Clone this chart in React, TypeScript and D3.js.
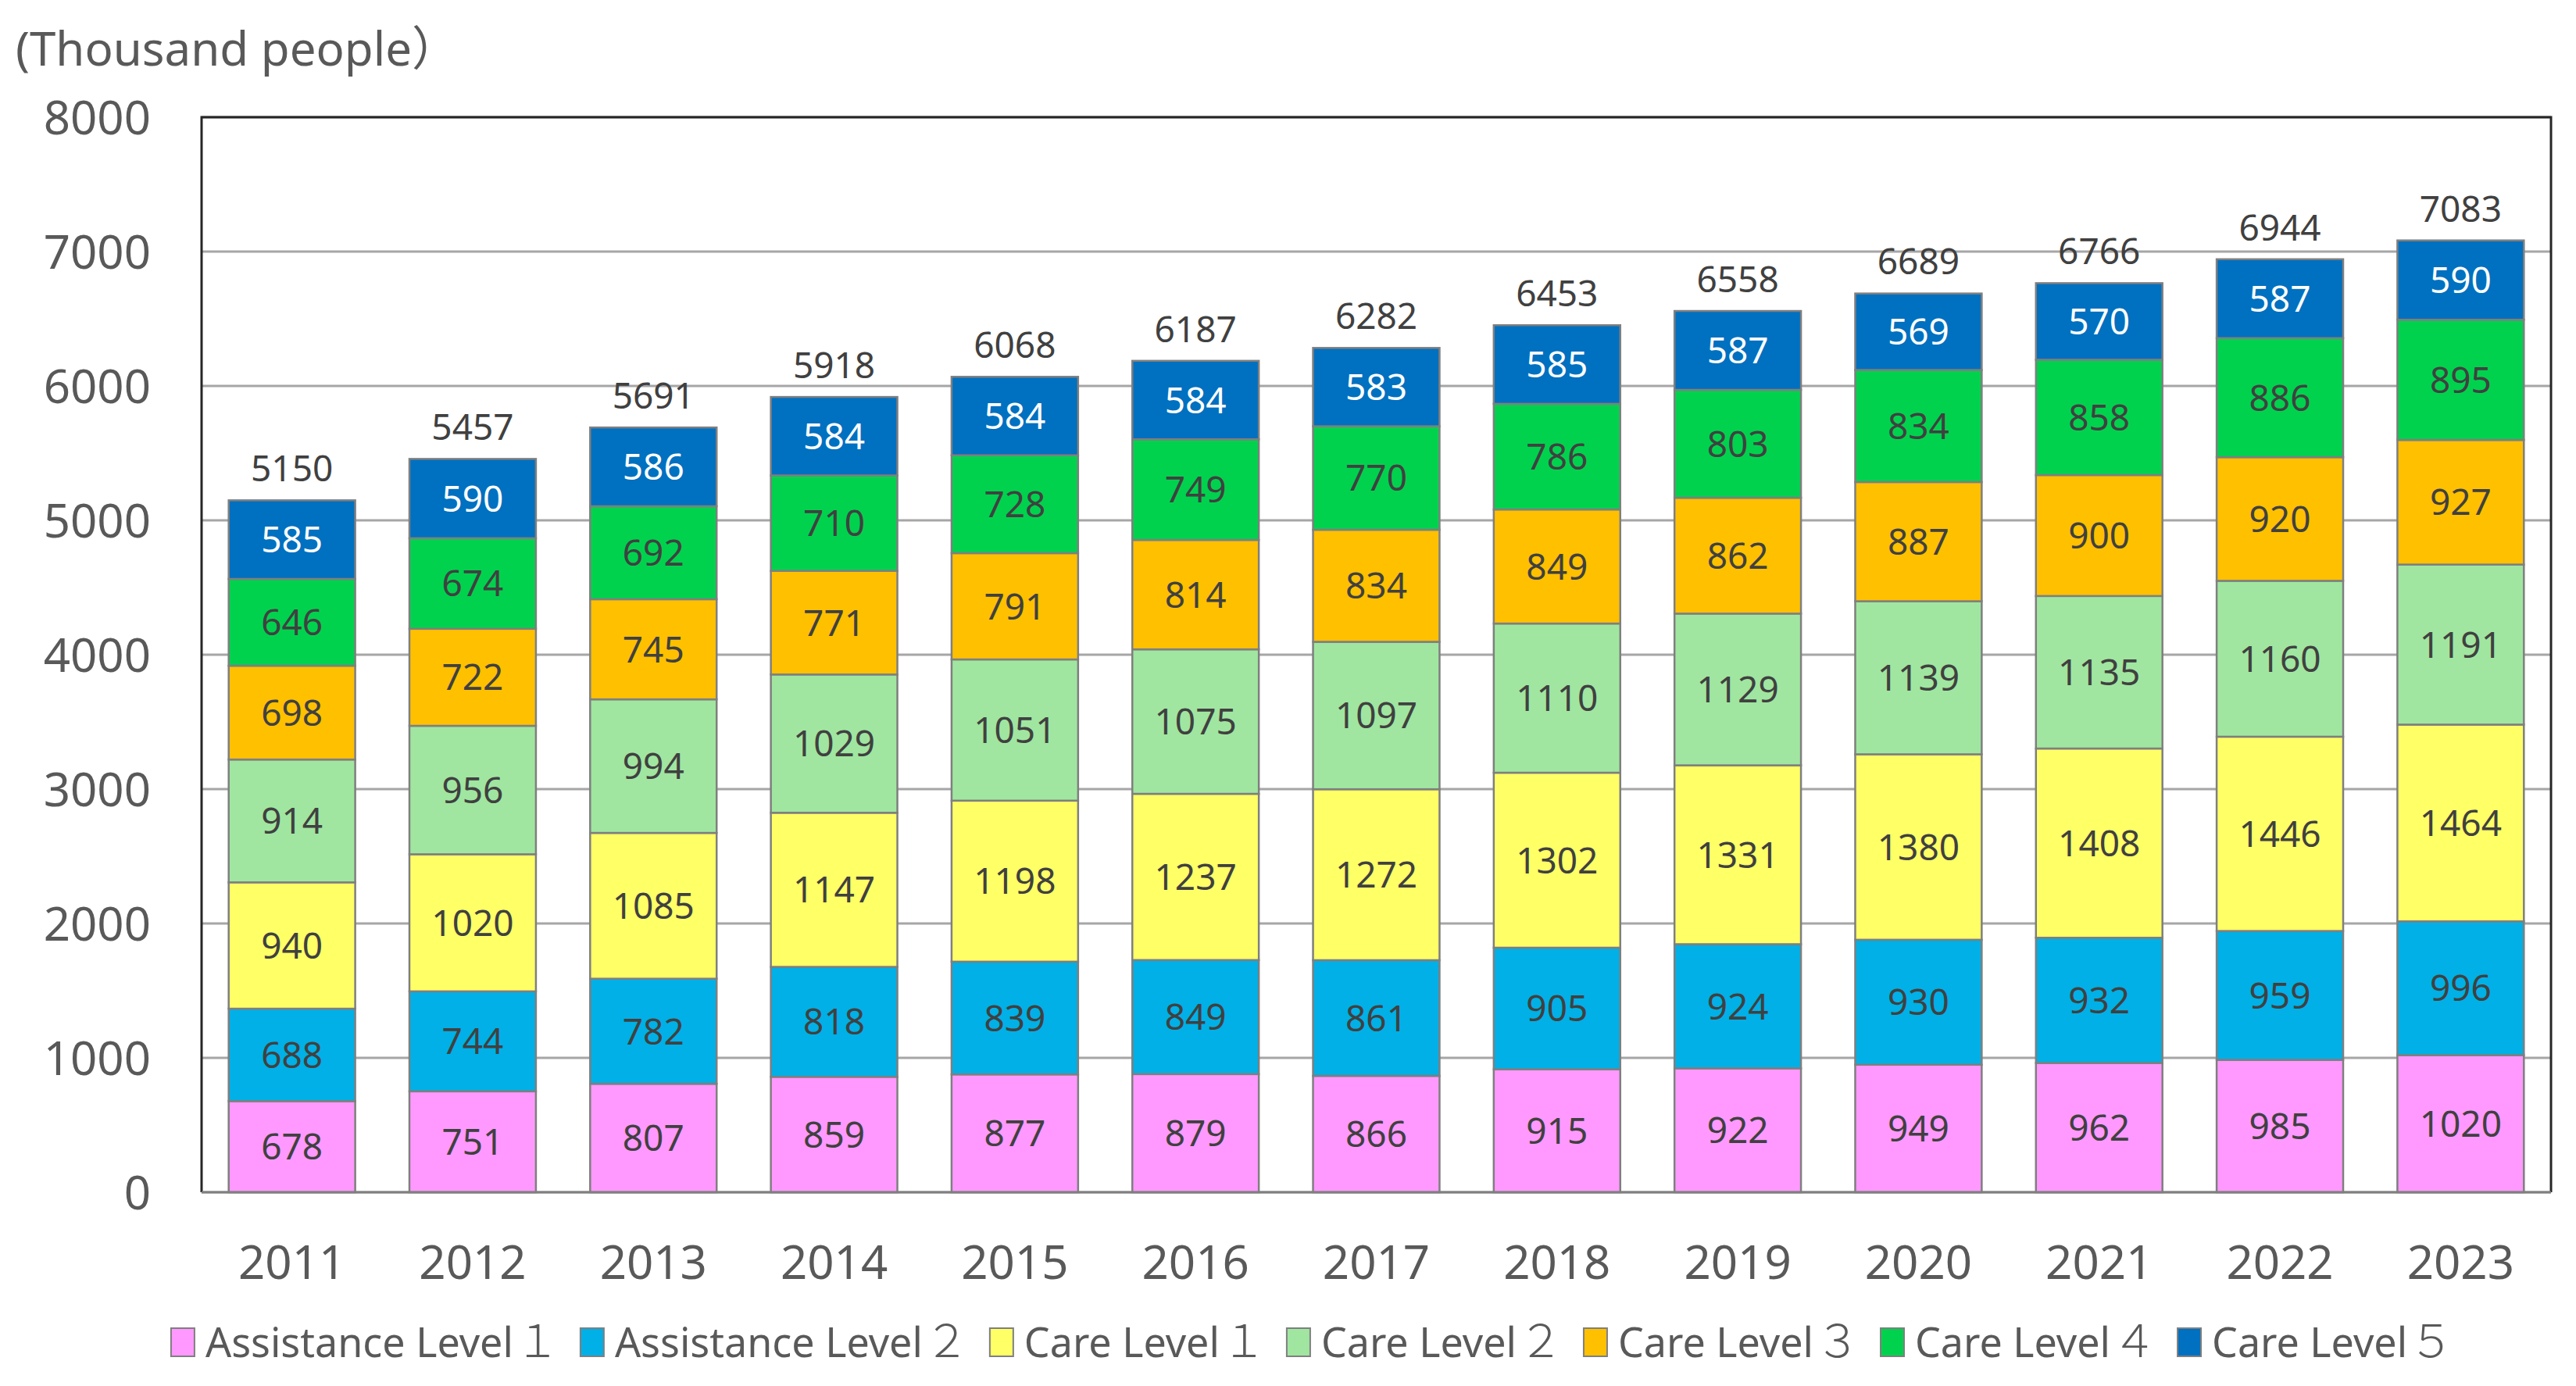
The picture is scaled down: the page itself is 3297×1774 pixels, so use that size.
import { useEffect, useRef } from 'react';
import * as d3 from 'd3';

const years = ['2011', '2012', '2013', '2014', '2015', '2016', '2017', '2018', '2019', '2020', '2021', '2022', '2023'];
const seriesNames = ['Assistance Level１', 'Assistance Level２', 'Care Level１', 'Care Level２', 'Care Level３', 'Care Level４', 'Care Level５'];
const assistance1 = [678, 751, 807, 859, 877, 879, 866, 915, 922, 949, 962, 985, 1020];
const assistance2 = [688, 744, 782, 818, 839, 849, 861, 905, 924, 930, 932, 959, 996];
const care1 = [940, 1020, 1085, 1147, 1198, 1237, 1272, 1302, 1331, 1380, 1408, 1446, 1464];
const care2 = [914, 956, 994, 1029, 1051, 1075, 1097, 1110, 1129, 1139, 1135, 1160, 1191];
const care3 = [698, 722, 745, 771, 791, 814, 834, 849, 862, 887, 900, 920, 927];
const care4 = [646, 674, 692, 710, 728, 749, 770, 786, 803, 834, 858, 886, 895];
const care5 = [585, 590, 586, 584, 584, 584, 583, 585, 587, 569, 570, 587, 590];
const totals = [5150, 5457, 5691, 5918, 6068, 6187, 6282, 6453, 6558, 6689, 6766, 6944, 7083];
const yTicks = [0, 1000, 2000, 3000, 4000, 5000, 6000, 7000, 8000];

const colors = ['#ff99ff', '#00b0e6', '#ffff66', '#a0e6a0', '#ffc000', '#00d24e', '#0070c0'];
const labelColors = ['#404040', '#404040', '#404040', '#404040', '#404040', '#404040', '#ffffff'];

const W = 3297;
const H = 1774;
const FONT = '"Noto Sans", "Noto Sans CJK JP", sans-serif';

export default function App() {
  const ref = useRef<SVGSVGElement>(null);

  useEffect(() => {
    document.body.style.margin = '0';
    const svg = d3.select(ref.current);
    svg.selectAll('*').remove();

    const margin = { top: 150, right: 32, bottom: 248, left: 258 };
    const width = W - margin.left - margin.right;
    const height = H - margin.top - margin.bottom;

    const values = [assistance1, assistance2, care1, care2, care3, care4, care5];
    const rows = years.map((year, i) => {
      const r: Record<string, any> = { year };
      seriesNames.forEach((s, j) => (r[s] = values[j][i]));
      return r;
    });
    const stacked = d3.stack().keys(seriesNames)(rows as any);

    const x = d3.scaleBand().domain(years).range([0, width]).paddingInner(0.3).paddingOuter(0.15);
    const y = d3.scaleLinear().domain([0, 8000]).range([height, 0]);

    const g = svg.append('g').attr('transform', `translate(${margin.left},${margin.top})`);

    // gridlines
    g.append('g')
      .selectAll('line')
      .data(yTicks)
      .enter()
      .append('line')
      .attr('x1', 0)
      .attr('x2', width)
      .attr('y1', d => y(d))
      .attr('y2', d => y(d))
      .attr('stroke', '#a6a6a6')
      .attr('stroke-width', 3);

    // tick labels
    g.append('g')
      .selectAll('text')
      .data(yTicks)
      .enter()
      .append('text')
      .attr('x', -65)
      .attr('y', d => y(d))
      .attr('dy', '0.36em')
      .attr('text-anchor', 'end')
      .attr('font-family', FONT)
      .attr('font-size', 60)
      .attr('fill', '#595959')
      .text(d => d);

    // bars
    stacked.forEach((layer, j) => {
      const lg = g.append('g');
      lg.selectAll('rect')
        .data(layer)
        .enter()
        .append('rect')
        .attr('x', d => x((d.data as any).year)!)
        .attr('y', d => y(d[1]))
        .attr('width', x.bandwidth())
        .attr('height', d => y(d[0]) - y(d[1]))
        .attr('fill', colors[j])
        .attr('stroke', '#7f7f7f')
        .attr('stroke-width', 2.5);
      lg.selectAll('text')
        .data(layer)
        .enter()
        .append('text')
        .attr('x', d => x((d.data as any).year)! + x.bandwidth() / 2)
        .attr('y', d => (y(d[0]) + y(d[1])) / 2)
        .attr('dy', '0.36em')
        .attr('text-anchor', 'middle')
        .attr('font-family', FONT)
        .attr('font-size', 46)
        .attr('fill', labelColors[j])
        .text((d, i) => values[j][i]);
    });

    // totals
    g.append('g')
      .selectAll('text')
      .data(years)
      .enter()
      .append('text')
      .attr('x', d => x(d)! + x.bandwidth() / 2)
      .attr('y', (d, i) => y(totals[i]) - 24)
      .attr('text-anchor', 'middle')
      .attr('font-family', FONT)
      .attr('font-size', 46)
      .attr('fill', '#404040')
      .text((d, i) => totals[i]);

    // frame
    g.append('path')
      .attr('d', `M0,${height}V0H${width}V${height}`)
      .attr('fill', 'none')
      .attr('stroke', '#262626')
      .attr('stroke-width', 3);
    g.append('line')
      .attr('x1', 0)
      .attr('x2', width)
      .attr('y1', height)
      .attr('y2', height)
      .attr('stroke', '#808080')
      .attr('stroke-width', 3);

    // year labels
    g.append('g')
      .selectAll('text')
      .data(years)
      .enter()
      .append('text')
      .attr('x', d => x(d)! + x.bandwidth() / 2)
      .attr('y', height + 89)
      .attr('dy', '0.36em')
      .attr('text-anchor', 'middle')
      .attr('font-family', FONT)
      .attr('font-size', 60)
      .attr('fill', '#595959')
      .text(d => d);

    // unit label
    svg.append('text')
      .attr('x', 20)
      .attr('y', 84)
      .attr('font-family', FONT)
      .attr('font-size', 60)
      .attr('fill', '#595959')
      .text('(Thousand people）');

    // legend: the trailing full-width digit is drawn a little larger, as in the source
    const legend = svg.append('g');
    const items: { g: any; w: number }[] = [];
    seriesNames.forEach((s, j) => {
      const ig = legend.append('g');
      ig.append('rect')
        .attr('x', 0)
        .attr('y', -18)
        .attr('width', 30)
        .attr('height', 36)
        .attr('fill', colors[j])
        .attr('stroke', '#7f7f7f')
        .attr('stroke-width', 2);
      const t = ig.append('text')
        .attr('x', 44)
        .attr('dy', '0.36em')
        .attr('font-family', FONT)
        .attr('font-size', 52)
        .attr('fill', '#595959');
      t.append('tspan').text(s.slice(0, -1));
      t.append('tspan')
        .attr('dx', 2)
        .attr('font-size', 58)
        .attr('font-weight', 300)
        .text(s.slice(-1));
      const w = 44 + 2 + (t.node() as SVGTextElement).getComputedTextLength();
      items.push({ g: ig, w });
    });
    const gap = 26;
    const totalW = d3.sum(items, d => d.w) + gap * (items.length - 1);
    let cx = 1680 - totalW / 2;
    items.forEach(it => {
      it.g.attr('transform', `translate(${cx},1718)`);
      cx += it.w + gap;
    });
  }, []);

  return <svg ref={ref} width={W} height={H} style={{ display: 'block', background: '#fff' }} />;
}
